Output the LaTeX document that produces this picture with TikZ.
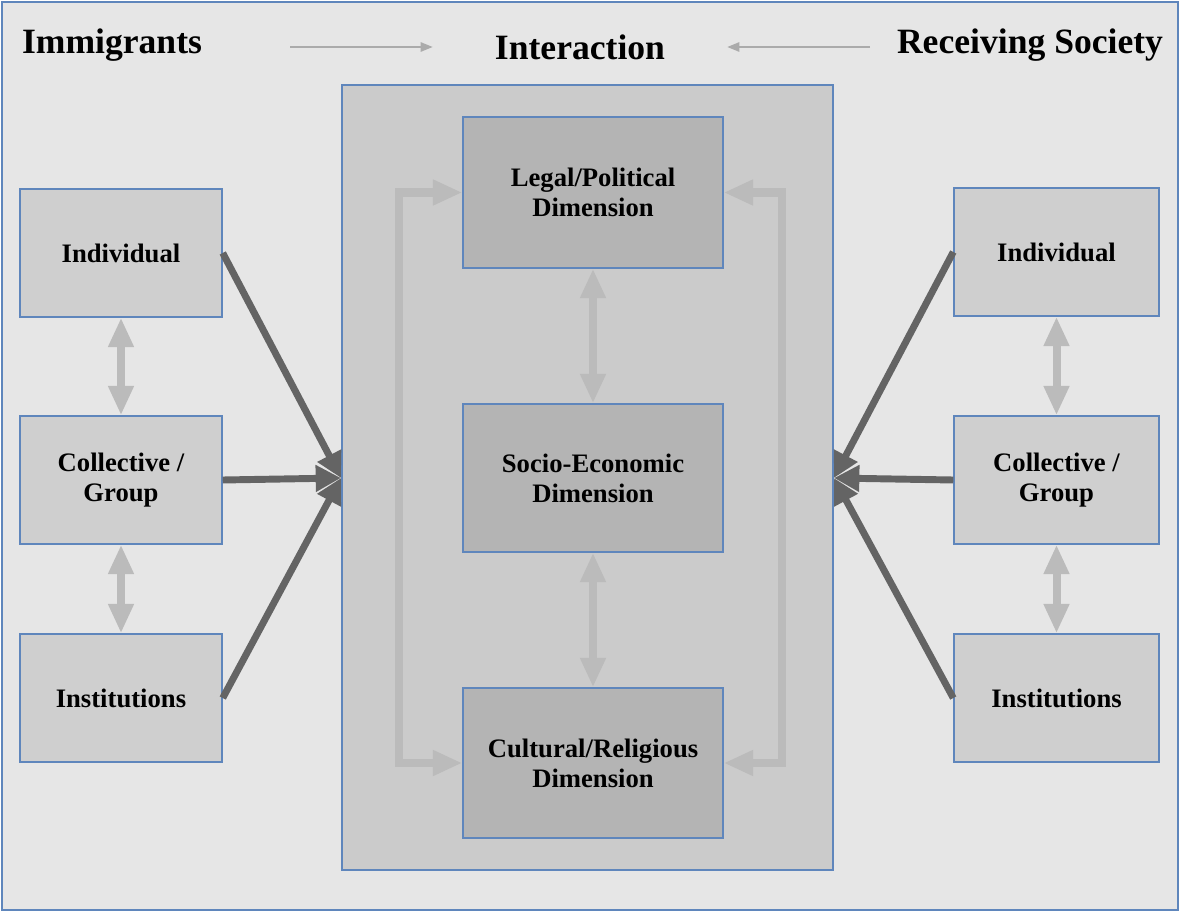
\documentclass[tikz,border=0pt]{standalone}
\usepackage{fontspec}
\setmainfont{Liberation Serif}
\usetikzlibrary{arrows.meta}
\newlength\pxu
\setlength\pxu{0.75pt}
\definecolor{bgc}{HTML}{E6E6E6}
\definecolor{sidec}{HTML}{CFCFCF}
\definecolor{bigc}{HTML}{CBCBCB}
\definecolor{innerc}{HTML}{B4B4B4}
\definecolor{edgec}{HTML}{5F86BC}
\definecolor{darkarr}{HTML}{646464}
\definecolor{lightarr}{HTML}{BBBBBB}
\definecolor{thinarr}{HTML}{ABABAB}
\tikzset{
  sidebox/.style={draw=edgec, line width=1.1pt, fill=sidec, minimum height=128\pxu, align=center,
    font=\fontsize{20}{22.5}\selectfont\bfseries, inner sep=0pt},
  innerbox/.style={draw=edgec, line width=1.1pt, fill=innerc, minimum width=260\pxu, align=center,
    font=\fontsize{20}{22.5}\selectfont\bfseries, inner sep=0pt},
  titletext/.style={font=\fontsize{26.7}{30}\selectfont\bfseries, inner sep=0pt},
  darkarrow/.style={draw=darkarr, line width=5.2pt, -{Triangle[length=19pt,width=19pt]}},
  lightarrow/.style={draw=lightarr, line width=6pt, {Triangle[length=22pt,width=18pt]}-{Triangle[length=22pt,width=18pt]}},
  bracketarrow/.style={draw=lightarr, line width=6pt, line join=miter, {Triangle[length=22pt,width=18pt]}-{Triangle[length=22pt,width=18pt]}},
  thinarrow/.style={draw=thinarr, line width=1.2pt, -{Triangle[length=9pt,width=7pt]}}
}
\begin{document}
\begin{tikzpicture}[x=0.75pt,y=-0.75pt]
\useasboundingbox (0,0) rectangle (1181,913);
\node[draw=edgec, line width=1.1pt, fill=bgc, minimum width=1176\pxu, minimum height=908\pxu, inner sep=0pt] (frame) at (590,456) {};
% titles
\node[titletext] (immig) at (112,45) {Immigrants};
\node[titletext] (inter) at (580,47) {Interaction};
\node[titletext] (recv) at (1030,45) {Receiving Society};
\coordinate (ta1) at (290,47);
\coordinate (ta2) at (870,47);
\draw[thinarrow] (ta1) -- ([xshift=-62\pxu]inter.west |- ta1);
\draw[thinarrow] (ta2) -- ([xshift=62\pxu]inter.east |- ta2);
% central box
\node[draw=edgec, line width=1.1pt, fill=bigc, minimum width=491\pxu, minimum height=785\pxu, inner sep=0pt] (big) at (587.5,477.5) {};
\node[innerbox, minimum height=151\pxu] (legal) at (593,192.5) {Legal/Political\\Dimension};
\node[innerbox, minimum height=148\pxu] (socio) at (593,478) {Socio-Economic\\Dimension};
\node[innerbox, minimum height=150\pxu] (cult) at (593,763) {Cultural/Religious\\Dimension};
% left boxes
\node[sidebox, minimum width=202\pxu] (lind) at (121,253) {Individual};
\node[sidebox, minimum width=202\pxu] (lcol) at (121,480) {Collective /\\Group};
\node[sidebox, minimum width=202\pxu] (linst) at (121,698) {Institutions};
% right boxes
\node[sidebox, minimum width=205\pxu] (rind) at (1056.5,252) {Individual};
\node[sidebox, minimum width=205\pxu] (rcol) at (1056.5,480) {Collective /\\Group};
\node[sidebox, minimum width=205\pxu] (rinst) at (1056.5,698) {Institutions};
% light arrows
\draw[lightarrow] (lind.south) -- (lcol.north);
\draw[lightarrow] (lcol.south) -- (linst.north);
\draw[lightarrow] (rind.south) -- (rcol.north);
\draw[lightarrow] (rcol.south) -- (rinst.north);
\draw[lightarrow] (legal.south) -- (socio.north);
\draw[lightarrow] (socio.south) -- (cult.north);
\draw[bracketarrow] (legal.west) -- ++(-63,0) |- (cult.west);
\draw[bracketarrow] (legal.east) -- ++(58,0) |- (cult.east);
% dark arrows
\coordinate (lhub) at (341,478);
\coordinate (rhub) at (834,478);
\draw[darkarrow] (lind.east) -- (lhub);
\draw[darkarrow] (lcol.east) -- (lhub);
\draw[darkarrow] (linst.east) -- (lhub);
\draw[darkarrow] (rind.west) -- (rhub);
\draw[darkarrow] (rcol.west) -- (rhub);
\draw[darkarrow] (rinst.west) -- (rhub);
\end{tikzpicture}
\end{document}
